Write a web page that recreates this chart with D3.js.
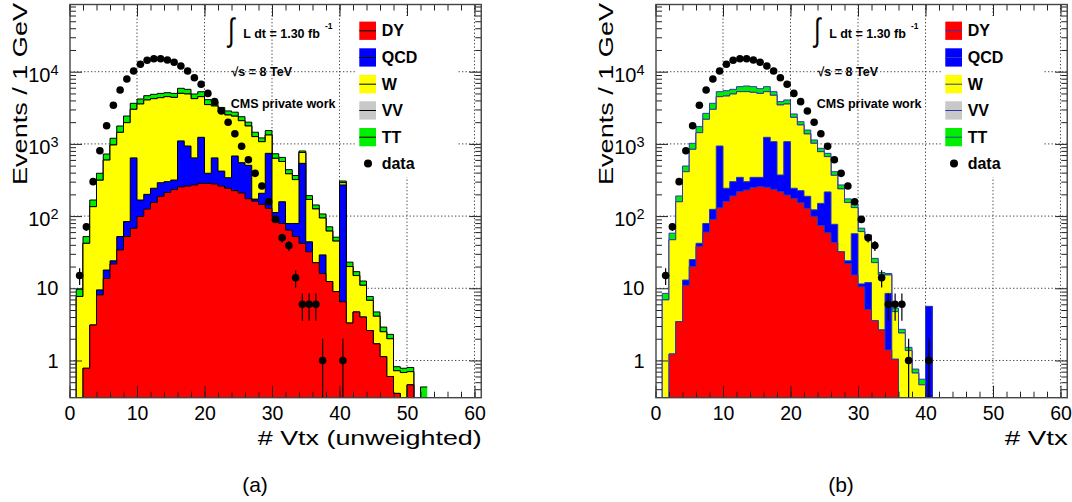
<!DOCTYPE html>
<html>
<head>
<meta charset="utf-8">
<script src="https://cdn.jsdelivr.net/npm/d3@7"></script>
<style>
  body { margin: 0; background: #fff; }
  svg text { font-family: "Liberation Sans", Arial, Helvetica, sans-serif; }
</style>
</head>
<body>
<svg id="chart" width="1072" height="502"></svg>
<script>
// observed data, bins of 1 GeV starting at 0 (same in both panels)
const dataCounts = [0, 15, 71, 300, 805, 1786, 3427, 5580, 7930, 10230, 12660, 14380, 15140, 15140, 14520, 13490,
  11990, 10230, 8260, 6690, 5010, 3845, 2858, 1991, 1385, 926, 604, 391, 261, 158, 90, 50, 39, 14, 6, 6, 6, 1, 0, 0, 1];

// panel (a): unweighted MC, bins 0..52
const dyA = [0, 0, 0.78, 3.1, 8.1, 13.7, 21.7, 34, 52, 68, 99, 125, 155, 188, 212, 233, 254, 261, 270, 284, 284, 279,
  261, 243, 225, 209, 174, 161, 145, 128, 98, 79, 64, 52, 42, 32, 22.6, 16, 12.4, 9, 6.5, 3.3, 4.7, 4.0, 2.6, 1.7, 1.13,
  0.6, 0.35, 0, 0.46, 0, 0];
const qcdA = [0, 0, 0, 0, 1.4, 4.2, 2.3, 18, 32, 572, 68, 75, 88, 102, 88, 83, 846, 674, 370, 950, 108, 361, 159, 97,
  455, 341, 331, 11, 62, 612, 14, 79, 15, 27, 496, 12, 0, 13, 0, 0, 263.5, 0, 0, 0, 0, 0, 0, 0, 0, 0, 0, 0, 0];
const wA = [0, 7.7, 41.2, 131.9, 304.5, 579, 942, 1393, 1883, 2373, 3403, 3855, 3987, 4075, 4210, 4094, 3910, 3975,
  3590, 3276, 3108, 2710, 2330, 2173, 1740, 1545, 1265, 1088, 865, 588, 519, 412, 306, 241, 222, 126, 103, 65, 49.6,
  36, 20, 16.7, 10.3, 7, 4.2, 2.4, 1.37, 1.4, 0.37, 0.68, 0.24, 0, 0];
const vvA = [0, 0, 0, 0, 0, 0, 0, 0, 0, 0, 0, 0, 0, 0, 0, 0, 0, 0, 0, 0, 0, 0, 0, 0, 0, 0, 0, 0, 0, 0, 0, 0, 0, 0, 0,
  0, 0, 0, 0, 0, 0, 0, 0, 0, 0, 0, 0, 0, 0, 0, 0, 0, 0];
const ttA = [0, 2, 10, 32, 78, 127, 231, 325, 465, 637, 620, 600, 630, 645, 610, 600, 880, 790, 680, 770, 600, 500,
  450, 347, 330, 285, 230, 190, 138, 202, 99, 80, 55, 45, 38, 22, 17, 13, 9, 6, 16, 3, 2, 1.6, 0.9, 0.6, 0.4, 0.3, 0.1,
  0.1, 0.1, 0, 0.43];

// panel (b): reweighted MC, bins 0..41
const dyB = [0, 0, 1.23, 3.45, 11, 20, 38, 60, 90, 130, 160, 190, 218, 230, 248, 256, 251, 235, 218, 196, 176, 153,
  128, 99, 74, 59, 43, 32, 22, 15.3, 10.5, 5.1, 3.56, 2.65, 1.4, 1.04, 0, 0, 0, 0, 0, 0];
const qcdB = [0, 0, 0, 0, 2, 5, 4, 19, 34, 805, 83, 110, 126, 70, 96, 88, 983, 840, 153, 879, 67, 72, 60, 23, 76, 157,
  34, 0, 2, 41.7, 1, 6.9, 0, 0, 7.1, 0, 0, 0, 0, 0, 5.6, 0];
const wB = [0, 6.9, 45.8, 154.5, 399, 816, 1388, 2111, 2886, 3575, 4357, 4610, 4946, 4990, 4836, 4666, 4056, 3635,
  3089, 2495, 2087, 1605, 1184, 897, 630, 450, 290, 206, 130, 74, 49.5, 38, 19.1, 12.65, 6.8, 3.71, 2.4, 1.37, 0.67,
  0.46, 0, 0];
const vvB = [0, 0, 0, 0, 0, 0, 0, 0, 0, 0, 0, 0, 0, 0, 0, 0, 0, 0, 0, 0, 0, 0, 0, 0, 0, 0, 0, 0, 0, 0, 0, 0, 0, 0, 0,
  0, 0, 0, 0, 0, 0, 0];
const ttB = [0, 1.6, 11, 32, 82, 178, 304, 460, 640, 780, 860, 790, 920, 1050, 1030, 810, 920, 580, 390, 490, 270, 200,
  185, 114, 89, 74, 45, 32, 19, 16, 7, 5, 3.3, 1.2, 0.7, 0.55, 0.3, 0.15, 0.09, 0.09, 0, 0];

const seriesNames = ['DY', 'QCD', 'W', 'VV', 'TT'];
const seriesColors = ['#ff0000', '#0000ff', '#ffff00', '#c8c8c8', '#00ee00'];
const xTickValues = [0, 10, 20, 30, 40, 50, 60];
const yTickValues = [1, 10, 100, 1000, 10000];
const yTickBase = ['1', '10', '10', '10', '10'];
const yTickExp = ['', '', '2', '3', '4'];

const svg = d3.select('#chart');
svg.append('rect').attr('width', 1072).attr('height', 502).attr('fill', '#fff');

const frame = {left: 70, right: 481.25, top: 4.5, bottom: 397.7};
const bottomOut = frame.bottom + 3;

function drawPanel(p) {
  const off = p.offset;
  const x = d3.scaleLinear().domain([0, 61]).range([69.5 + off, frame.right + off]);
  const y = d3.scaleLog().domain([0.305, 85300]).range([frame.bottom, frame.top]);
  const yv = (v) => v > 0 ? Math.min(y(v), bottomOut) : bottomOut;

  const g = svg.append('g');
  g.append('clipPath').attr('id', 'clip' + p.id)
    .append('rect')
    .attr('x', frame.left + off).attr('y', frame.top)
    .attr('width', frame.right - frame.left).attr('height', frame.bottom - frame.top);
  const plot = g.append('g').attr('clip-path', 'url(#clip' + p.id + ')');

  // dotted grid
  const grid = plot.append('g')
    .attr('stroke', '#444').attr('stroke-width', 1).attr('stroke-dasharray', '1.3,2.2');
  grid.selectAll('line.gx').data(xTickValues.slice(1)).enter().append('line')
    .attr('x1', (d) => x(d)).attr('x2', (d) => x(d))
    .attr('y1', frame.top).attr('y2', frame.bottom);
  grid.selectAll('line.gy').data(yTickValues).enter().append('line')
    .attr('x1', frame.left + off).attr('x2', frame.right + off)
    .attr('y1', (d) => y(d)).attr('y2', (d) => y(d));

  // stacked histograms
  const rows = p.series[0].map((d, i) => {
    const r = {};
    seriesNames.forEach((k, j) => { r[k] = p.series[j][i]; });
    return r;
  });
  const stacked = d3.stack().keys(seriesNames)(rows);
  const area = d3.area().x((d) => x(d[0])).y0(bottomOut).y1((d) => yv(d[1]));
  const line = d3.line().x((d) => x(d[0])).y((d) => yv(d[1]));
  for (let k = stacked.length - 1; k >= 0; k--) {
    const pts = [];
    stacked[k].forEach((s, i) => {
      pts.push([i, s[1]], [i + 1, s[1]]);
    });
    plot.append('path').attr('d', area(pts)).attr('fill', seriesColors[k]);
    plot.append('path').attr('d', line(pts))
      .attr('fill', 'none').attr('stroke', p.lineColor).attr('stroke-width', 1);
  }

  // data points with sqrt(N) errors
  const pts = dataCounts.map((n, i) => ({i: i, n: n})).filter((d) => d.n > 0);
  plot.selectAll('line.err').data(pts).enter().append('line')
    .attr('x1', (d) => x(d.i + 0.5)).attr('x2', (d) => x(d.i + 0.5))
    .attr('y1', (d) => yv(d.n + Math.sqrt(d.n)))
    .attr('y2', (d) => yv(d.n - Math.sqrt(d.n)))
    .attr('stroke', '#000').attr('stroke-width', 1.2);
  plot.selectAll('circle.pt').data(pts).enter().append('circle')
    .attr('cx', (d) => x(d.i + 0.5)).attr('cy', (d) => y(d.n))
    .attr('r', 3.8).attr('fill', '#000');

  // axes (ticks inside)
  const tickStyle = (sel) => {
    sel.select('.domain').remove();
    sel.selectAll('line').attr('stroke', '#222');
  };
  const xMinor = d3.range(0, 61, 2);
  const yMinor = [];
  [0.1, 1, 10, 100, 1000, 10000].forEach((dec) => {
    [2, 3, 4, 5, 6, 7, 8, 9].forEach((m) => { if (dec * m > 0.305 && dec * m < 85300) yMinor.push(dec * m); });
  });

  const xb = g.append('g').attr('transform', 'translate(0,' + frame.bottom + ')')
    .call(d3.axisBottom(x).tickValues(xTickValues).tickSize(-12).tickSizeOuter(0).tickPadding(8)
      .tickFormat(d3.format('d')));
  tickStyle(xb);
  xb.selectAll('text').attr('font-size', 19.5).attr('fill', '#000')
    .attr('font-family', '"Liberation Sans", Arial, sans-serif');
  g.append('g').attr('transform', 'translate(0,' + frame.bottom + ')')
    .call(d3.axisBottom(x).tickValues(xMinor).tickSize(-6).tickSizeOuter(0).tickFormat(() => ''))
    .call(tickStyle);
  g.append('g').attr('transform', 'translate(0,' + frame.top + ')')
    .call(d3.axisTop(x).tickValues(xTickValues).tickSize(-12).tickSizeOuter(0).tickFormat(() => ''))
    .call(tickStyle);
  g.append('g').attr('transform', 'translate(0,' + frame.top + ')')
    .call(d3.axisTop(x).tickValues(xMinor).tickSize(-6).tickSizeOuter(0).tickFormat(() => ''))
    .call(tickStyle);
  g.append('g').attr('transform', 'translate(' + (frame.left + off) + ',0)')
    .call(d3.axisLeft(y).tickValues(yTickValues).tickSize(-12).tickSizeOuter(0).tickFormat(() => ''))
    .call(tickStyle);
  g.append('g').attr('transform', 'translate(' + (frame.left + off) + ',0)')
    .call(d3.axisLeft(y).tickValues(yMinor).tickSize(-6).tickSizeOuter(0).tickFormat(() => ''))
    .call(tickStyle);
  g.append('g').attr('transform', 'translate(' + (frame.right + off) + ',0)')
    .call(d3.axisRight(y).tickValues(yTickValues).tickSize(-12).tickSizeOuter(0).tickFormat(() => ''))
    .call(tickStyle);
  g.append('g').attr('transform', 'translate(' + (frame.right + off) + ',0)')
    .call(d3.axisRight(y).tickValues(yMinor).tickSize(-6).tickSizeOuter(0).tickFormat(() => ''))
    .call(tickStyle);

  // y tick labels 1, 10, 10^2 ...
  yTickValues.forEach((v, i) => {
    const t = g.append('text')
      .attr('x', off + 58.5)
      .attr('y', y(v) + (yTickExp[i] ? 10 : 7.2))
      .attr('text-anchor', 'end').attr('font-size', 20);
    t.append('tspan').text(yTickBase[i]);
    if (yTickExp[i]) {
      t.append('tspan').attr('dy', -7).attr('font-size', 14.5).text(yTickExp[i]);
    }
  });

  // frame
  g.append('rect')
    .attr('x', frame.left + off).attr('y', frame.top)
    .attr('width', frame.right - frame.left).attr('height', frame.bottom - frame.top)
    .attr('fill', 'none').attr('stroke', '#444').attr('stroke-width', 1.4);

  // axis titles
  g.append('text')
    .attr('x', frame.right + off + 0.5).attr('y', 444.7)
    .attr('text-anchor', 'end').attr('font-size', 21)
    .attr('textLength', p.xTitleLen).attr('lengthAdjust', 'spacingAndGlyphs')
    .text(p.xTitle);
  g.append('text')
    .attr('transform', 'translate(' + (26.7 + off) + ',185) rotate(-90)')
    .attr('font-size', 20.5)
    .attr('textLength', 182).attr('lengthAdjust', 'spacingAndGlyphs')
    .text('Events / 1 GeV');

  // annotations
  g.append('text')
    .attr('transform', 'translate(' + (228 + off) + ',41) scale(1,1.35)')
    .attr('font-family', '"DejaVu Sans", sans-serif').attr('font-size', 24)
    .text('∫');
  g.append('text').attr('x', 243.3 + off).attr('y', 37.5)
    .attr('font-size', 12.5).attr('font-weight', 'bold').text('L dt = 1.30 fb');
  g.append('text').attr('x', 325 + off).attr('y', 29.3)
    .attr('font-size', 8.5).attr('font-weight', 'bold').text('-1');
  g.append('text').attr('x', 231.5 + off).attr('y', 76)
    .attr('font-size', 12.5).attr('font-weight', 'bold').text('√s = 8 TeV');
  g.append('text').attr('x', 230.7 + off).attr('y', 108.3)
    .attr('font-size', 12.5).attr('font-weight', 'bold').text('CMS private work');

  // legend
  const lg = g.append('g');
  lg.append('rect').attr('x', 355 + off).attr('y', 16).attr('width', 102).attr('height', 161)
    .attr('fill', '#fff');
  const legY = [30.8, 57.5, 84.2, 110.5, 137.2];
  seriesNames.forEach((name, i) => {
    lg.append('rect').attr('x', 359.3 + off).attr('y', legY[i] - 9.2)
      .attr('width', 16.7).attr('height', 18.3).attr('fill', seriesColors[i]);
    lg.append('line').attr('x1', 359.3 + off).attr('x2', 376 + off)
      .attr('y1', legY[i]).attr('y2', legY[i])
      .attr('stroke', p.lineColor).attr('stroke-width', 1);
    lg.append('text').attr('x', 381.7 + off).attr('y', legY[i] + 5.6)
      .attr('font-size', 16).attr('font-weight', 'bold').text(name);
  });
  lg.append('circle').attr('cx', 368 + off).attr('cy', 163.5).attr('r', 4).attr('fill', '#000');
  lg.append('text').attr('x', 381.7 + off).attr('y', 169.3)
    .attr('font-size', 16).attr('font-weight', 'bold').text('data');

  // caption
  g.append('text').attr('x', 255 + off).attr('y', 492)
    .attr('text-anchor', 'middle')
    .attr('font-family', '"Liberation Serif", "Times New Roman", serif').attr('font-size', 21)
    .text(p.caption);
}

drawPanel({id: 'a', offset: 0, lineColor: '#000', series: [dyA, qcdA, wA, vvA, ttA],
  xTitle: '# Vtx (unweighted)', xTitleLen: 224, caption: '(a)'});
drawPanel({id: 'b', offset: 586, lineColor: '#2a3ab0', series: [dyB, qcdB, wB, vvB, ttB],
  xTitle: '# Vtx', xTitleLen: 63, caption: '(b)'});
</script>
</body>
</html>
